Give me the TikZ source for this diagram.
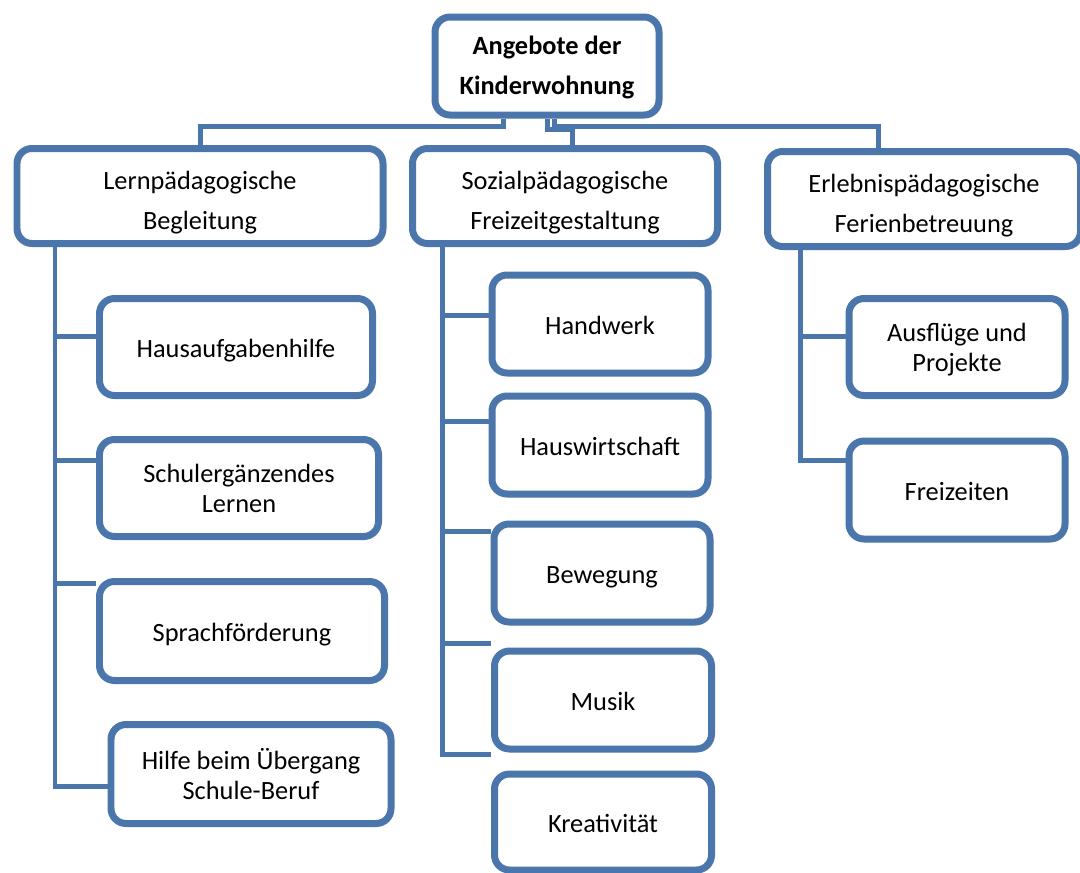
\documentclass[tikz,border=0pt]{standalone}
\usepackage{fontspec}
\setmainfont{Carlito}
\usepackage{tikz}
\usetikzlibrary{shadows}
\definecolor{boxblue}{RGB}{74,118,172}

\begin{document}
\begin{tikzpicture}[x=0.02cm,y=-0.02cm,
        box/.style={draw=boxblue,line width=0.14cm,rounded corners=0.3cm,fill=white,
            align=center,inner sep=0pt,font=\fontsize{15}{17}\selectfont,
            drop shadow={shadow xshift=0.05cm,shadow yshift=-0.06cm,opacity=0.25}},
        subbox/.style={box,execute at begin node={\rule[-3pt]{0pt}{18pt}}},
        pairbox/.style={box,text depth=-2pt},
        topbox/.style={box,font=\fontsize{15}{22.7}\selectfont,text height=38pt,text depth=0pt},
        sz/.style 2 args={minimum width=#1*0.02cm,minimum height=#2*0.02cm},
        link/.style={draw=boxblue,line width=0.1cm},
    ]
    \useasboundingbox (0,0) rectangle (1080,873);
    % top
    \node[box,sz={224}{98},font=\fontsize{15}{22.7}\selectfont\bfseries,text depth=0.5pt] (root) at (547,66) {Angebote der\\Kinderwohnung};
    \node[topbox,sz={366}{95}] (lern) at (200,196) {Lernpädagogische\\Begleitung};
    \node[topbox,sz={305}{95}] (sozial) at (565,196) {Sozialpädagogische\\Freizeitgestaltung};
    \node[topbox,sz={313}{95}] (erleb) at (924,199) {Erlebnispädagogische\\Ferienbetreuung};
    % left column
    \node[subbox,sz={273}{97}] (hausauf) at (236,347) {Hausaufgabenhilfe};
    \node[pairbox,sz={279}{97}] (schule) at (239,488) {Schulergänzendes\\Lernen};
    \node[subbox,sz={285}{99}] (sprache) at (242,631) {Sprachförderung};
    \node[pairbox,sz={280}{99}] (uebergang) at (251,774) {Hilfe beim Übergang\\Schule-Beruf};
    % middle column
    \node[subbox,sz={216}{98}] (handwerk) at (600,324) {Handwerk};
    \node[subbox,sz={216}{98}] (hauswirt) at (600,445) {Hauswirtschaft};
    \node[subbox,sz={216}{98}] (bewegung) at (602,573) {Bewegung};
    \node[subbox,sz={217}{98}] (musik) at (603,700) {Musik};
    \node[subbox,sz={217}{96}] (kreativ) at (603,822) {Kreativität};
    % right column
    \node[pairbox,sz={216}{97}] (ausflug) at (957,347) {Ausflüge und\\Projekte};
    \node[subbox,sz={216}{98}] (freizeit) at (957,490) {Freizeiten};

    \draw[link] (root.south -| 503,0) |- (lern.north |- 0,126) -- (lern.north);
    \draw[link] (root.south -| 547,0) |- (572,129) -- (sozial.north -| 572,0);
    \draw[link] (root.south -| 554,0) |- (878,126) -- (erleb.north -| 878,0);

    \draw[link] (lern.south -| 55,0) |- (uebergang.west |- 0,786);
    \foreach \n/\y in {hausauf/336,schule/460,sprache/583}
        \draw[link] (55,\y) -- (\n.west |- 0,\y);
    \draw[link] (sozial.south -| 442,0) |- (kreativ.west |- 0,754);
    \foreach \n/\y in {handwerk/315,hauswirt/421,bewegung/531,musik/643}
        \draw[link] (442,\y) -- (\n.west |- 0,\y);
    \draw[link] (erleb.south -| 800,0) |- (freizeit.west |- 0,460);
    \draw[link] (800,336) -- (ausflug.west |- 0,336);
\end{tikzpicture}
\end{document}
